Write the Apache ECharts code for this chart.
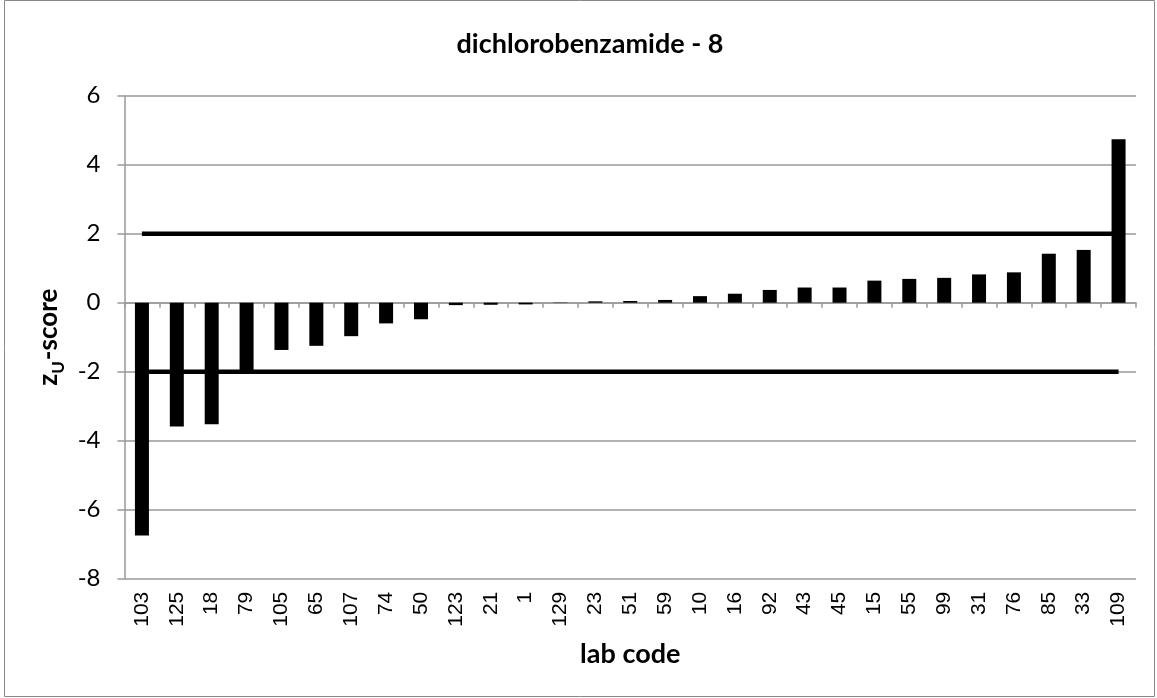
<!DOCTYPE html>
<html>
<head>
<meta charset="utf-8">
<script src="https://cdn.jsdelivr.net/npm/echarts@6/dist/echarts.min.js"></script>
<style>
html,body{margin:0;padding:0;background:#fff;}
#c{width:1157px;height:698px;}
</style>
</head>
<body>
<div id="c"></div>
<script>
const labCodes = ['103','125','18','79','105','65','107','74','50','123','21','1','129','23','51','59','10','16','92','43','45','15','55','99','31','76','85','33','109'];
const zScores = [-6.75,-3.59,-3.52,-1.98,-1.37,-1.25,-0.97,-0.60,-0.48,-0.07,-0.06,-0.05,-0.01,0.04,0.05,0.08,0.19,0.26,0.37,0.44,0.44,0.64,0.69,0.72,0.82,0.88,1.42,1.53,4.74];
const upperLimit = labCodes.map(() => 2);
const lowerLimit = labCodes.map(() => -2);
const yTicks = {min: -8, max: 6, interval: 2};

const chart = echarts.init(document.getElementById('c'));
chart.setOption({
  animation: false,
  backgroundColor: '#fff',
  graphic: [{
    type: 'rect', silent: true, z: -10,
    shape: {x: 4.5, y: 0.5, width: 1150, height: 696},
    style: {fill: 'none', stroke: '#888', lineWidth: 1}
  }],
  title: {
    text: 'dichlorobenzamide - 8',
    left: 585, top: 26, textAlign: 'center',
    textStyle: {fontFamily: 'Lato', fontWeight: 'bold', fontSize: 27, color: '#000'}
  },
  grid: {left: 124.5, right: 21, top: 95.7, bottom: 119.3, containLabel: false},
  xAxis: [{
    type: 'category', data: labCodes, position: 'bottom',
    axisLine: {show: true, onZero: true, lineStyle: {color: '#999', width: 1.5}},
    axisTick: {show: true, length: 5, inside: false, lineStyle: {color: '#999', width: 1.5}},
    axisLabel: {show: false},
    splitLine: {show: false}
  }, {
    type: 'category', data: labCodes, position: 'bottom',
    axisLine: {show: false, onZero: false},
    axisTick: {show: false},
    axisLabel: {show: true, rotate: 90, margin: 13, interval: 0,
      fontFamily: 'Liberation Sans', fontSize: 21, color: '#000'},
    name: 'lab code', nameLocation: 'middle', nameGap: 62,
    nameTextStyle: {fontFamily: 'Lato', fontWeight: 'bold', fontSize: 27, color: '#000'}
  }],
  yAxis: {
    type: 'value', min: yTicks.min, max: yTicks.max, interval: yTicks.interval,
    axisLine: {show: true, lineStyle: {color: '#999', width: 1.5}},
    axisTick: {show: true, length: 7, lineStyle: {color: '#999', width: 1.5}},
    axisLabel: {fontFamily: 'Lato', fontSize: 24, color: '#000', margin: 24},
    splitLine: {show: true, lineStyle: {color: '#999', width: 1.5}},
    name: '{a|z}{s|U}{a|-score}', nameLocation: 'middle', nameGap: 52, nameRotate: 90,
    nameTextStyle: {
      rich: {
        a: {fontFamily: 'Lato', fontWeight: 'bold', fontSize: 26, lineHeight: 26, verticalAlign: 'top', color: '#000'},
        s: {fontFamily: 'Lato', fontWeight: 'bold', fontSize: 17, lineHeight: 17, verticalAlign: 'top', padding: [14, 1, 0, 0], color: '#000'}
      }
    }
  },
  series: [{
    type: 'line', data: upperLimit, xAxisIndex: 0, symbol: 'none', z: 1,
    lineStyle: {color: '#000', width: 4.5}
  }, {
    type: 'line', data: lowerLimit, xAxisIndex: 0, symbol: 'none', z: 1,
    lineStyle: {color: '#000', width: 4.5}
  }, {
    type: 'bar', data: zScores, xAxisIndex: 0, barWidth: 14, z: 3,
    itemStyle: {color: '#000'}
  }]
});
</script>
</body>
</html>
